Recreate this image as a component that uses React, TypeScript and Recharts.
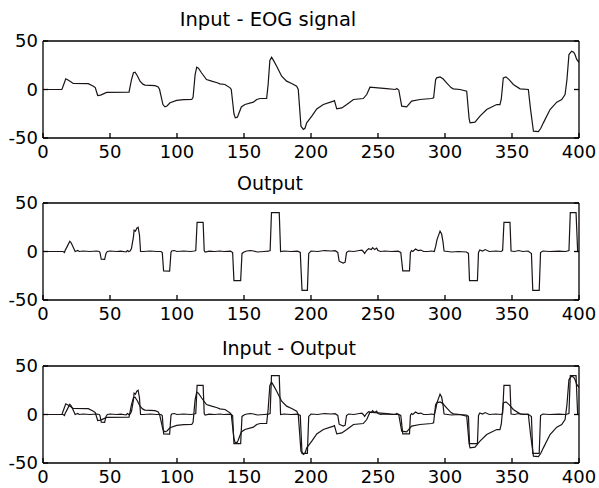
import React from 'react';
import { LineChart, Line, XAxis, YAxis } from 'recharts';

const xTicks = [0, 50, 100, 150, 200, 250, 300, 350, 400];
const yTicks = [-50, 0, 50];
const titles = ['Input - EOG signal', 'Output', 'Input - Output'];

// [sample index, value]
const inputSignal: [number, number][] = [
  [0, 0], [14, 0], [14.5, 1.5], [17, 11], [19, 9.5], [22.6, 6.2], [33.8, 6], [37.6, 3.4], [39, 2], [40.8, -6.2],
  [43, -5.8], [47.5, -3], [64.2, -2.7], [66, 10], [67.5, 17.2], [68.7, 17.9], [70.5, 14], [72.4, 8.6], [74.5, 5.5], [76.1, 4.5],
  [83.6, 4], [86, 2.7], [87, 0], [89.5, -15.5], [91, -17.9], [92.5, -17], [94.8, -13.7], [99.8, -11.3], [105, -10.5], [111, -10.3],
  [112, -8], [113.5, 15], [114.7, 23], [116, 22], [118.4, 17], [122, 10.3], [125.9, 8.6], [130, 7], [132, 5.8], [135.8, 5.2],
  [139.6, 1.7], [140.5, 0], [142.5, -25], [143.5, -29.2], [145, -28.5], [145.5, -27], [148, -18], [150.7, -15.5], [157, -13], [159.5, -10.3],
  [162, -9.3], [166.9, -9.3], [168, 5], [169.3, 30], [170.6, 33.3], [172, 30], [174.4, 24], [178.1, 13.7], [181.8, 8.6], [185.6, 6.2],
  [189.3, 3.4], [190.5, 0], [192.5, -37.8], [194.3, -41.2], [195.5, -40], [196.8, -34.4], [200.6, -27.5], [204.3, -20], [209.2, -15.5], [216.8, -12],
  [217.5, -11.5], [219.2, -20], [223, -19], [226.7, -15.5], [231.7, -10.3], [239, -9.3], [241.6, -5.2], [244, 2.4], [250, 1.7], [256.5, 1],
  [263, 0], [264, 1], [265.5, -0.5], [267.7, -17.2], [271.4, -18], [275.1, -12], [281.3, -10.3], [290, -9.3], [291.5, -8.5], [293, 10],
  [293.8, 12], [296.3, 13], [298.5, 11], [301.2, 6.9], [304.5, 2], [306.2, 0.7], [311.2, 0], [316.2, -1.7], [318, -30], [318.7, -34.4],
  [322.4, -33.7], [326.1, -27.5], [331.1, -20.6], [338.6, -15.5], [341, -15.5], [342, -10], [343.5, 12], [345.5, 13], [348, 10], [351, 5.2],
  [356, 0.7], [362.2, 0], [363.8, -20], [366, -43], [369.7, -43.5], [371.5, -40], [373.4, -34.4], [378.4, -20.6], [383.4, -13], [387.1, -10.3],
  [389.6, -5.2], [391, 10], [392.5, 36], [394.5, 39.5], [396, 38.5], [397, 36], [398.3, 31], [400, 28],
];

const outputSignal: [number, number][] = [
  [0, 0], [15, 0], [16, -1], [16.5, 1], [18, 5], [20, 10.6], [21, 9], [23, 3], [24, 0], [26, 1],
  [27, 0], [30, 0.5], [35, 0], [40, 0.5], [42, 0], [42.5, -1], [43.5, -8], [46, -8.2], [47, -2], [48, 0],
  [50, 0.5], [55, 0], [58, 0.3], [62, -0.5], [63, 1], [64, 0], [65, 0.5], [66, 3], [67.5, 15], [68, 22],
  [69, 21], [70, 24], [71, 25], [72, 17], [72.8, 0], [75, 0], [80, 0.5], [85, 0], [88, 0], [89, -1],
  [90, -20], [94.5, -20.3], [95.5, -1], [96, 0.5], [98, 1], [100, 0], [105, 0.5], [110, 0], [113, 0.5], [114, 1],
  [115, 30], [119.5, 30], [120.3, 1], [121, -0.5], [124, 0.3], [128, 0], [132, 0.5], [135, 0], [140, 0.3], [141.5, -1],
  [142.5, -30], [147.5, -30], [148.5, -2], [150, -0.5], [152, 0.5], [155, 1], [157, 0.5], [160, -0.5], [165, 0], [168, 0.3],
  [169.5, 1], [170.5, 40], [176.3, 40], [177.3, 0], [180, 0.5], [185, 0], [190, 0.3], [192, -1], [193.3, -40], [197.3, -40],
  [198.3, -2], [200, 0.5], [205, 0], [210, 1], [215, 0.5], [218, 0.8], [220, -1], [221, -10], [224, -12], [225.5, -11],
  [226.5, -1], [228, 0.5], [232, 0], [236, 1], [238, 1.5], [239, 0], [240, -2], [241.5, 1], [243, 3], [245, 2],
  [246, 4], [247.5, 2], [249, 3.5], [250, 1], [252, 0], [255, 0.5], [260, 0], [265, 0.3], [267, -1], [268.5, -20],
  [273.5, -20], [274.2, -1], [275, 1], [276, 0], [278, 2.5], [280, 1], [282, 1.5], [284, 0], [287, 0], [290, 0.5],
  [292, 0], [293, 5], [294, 12], [296.3, 21], [297.5, 18], [298.5, 10], [299.3, 0.5], [302, 0], [305, -0.5], [310, 0],
  [316, -0.5], [317.5, -2], [318.3, -30], [324.2, -30], [325, -1], [326, 1.5], [328, 0.5], [330, 2], [333, 0], [338, 0.5],
  [342, 0], [343, 1], [344, 30], [348.5, 30], [349.3, 0.5], [352, 0], [355, 1], [358, 0], [362, 0.5], [364.5, -2],
  [365.5, -40], [370.3, -40], [371.3, -1], [373, 0.5], [378, 0], [385, 0.3], [390, 0], [392.5, 1], [393.5, 40], [397.8, 40],
  [399, 0], [400, 0],
];

const FONT = '"DejaVu Sans", Verdana, sans-serif';
const INK = '#1a1414';

const toRows = (s: [number, number][]) => s.map(([t, v]) => ({ t, v }));
const inputRows = toRows(inputSignal);
const outputRows = toRows(outputSignal);

const tickFont = { fill: '#000', fontSize: 18, fontFamily: FONT };

function Panel({ plotTop, series }: { plotTop: number; series: { t: number; v: number }[][] }) {
  return (
    <div style={{ position: 'absolute', left: 0, top: plotTop - 10 }}>
      <LineChart width={599} height={132} margin={{ top: 9, right: 19, bottom: 0, left: 0 }}>
        <XAxis
          xAxisId="b"
          dataKey="t"
          type="number"
          domain={[0, 400]}
          ticks={xTicks}
          interval={0}
          allowDataOverflow
          height={25}
          tickSize={-5}
          tickMargin={12}
          stroke="#000"
          strokeWidth={1.3}
          tick={tickFont}
        />
        <XAxis
          xAxisId="top"
          orientation="top"
          type="number"
          domain={[0, 400]}
          ticks={xTicks}
          interval={0}
          allowDataOverflow
          height={1}
          tickSize={-5}
          tickFormatter={() => ''}
          stroke="#000"
          strokeWidth={1.3}
        />
        <YAxis
          yAxisId="l"
          type="number"
          domain={[-50, 50]}
          ticks={yTicks}
          interval={0}
          allowDataOverflow
          width={43}
          tickSize={-5}
          tickMargin={10}
          stroke="#000"
          strokeWidth={1.3}
          tick={tickFont}
        />
        <YAxis
          yAxisId="r"
          orientation="right"
          type="number"
          domain={[-50, 50]}
          ticks={yTicks}
          interval={0}
          allowDataOverflow
          width={1}
          tickSize={-5}
          tickFormatter={() => ''}
          stroke="#000"
          strokeWidth={1.3}
        />
        {series.map((rows, i) => (
          <Line
            key={i}
            xAxisId="b"
            yAxisId="l"
            data={rows}
            dataKey="v"
            type="linear"
            stroke={INK}
            strokeWidth={1.2}
            dot={false}
            activeDot={false}
            isAnimationActive={false}
          />
        ))}
      </LineChart>
    </div>
  );
}

const titleCenters = [268, 270, 289];
const titleBaselines = [27, 190, 355];
const titleSizes = [19.5, 19, 19];

export default function App() {
  return (
    <div style={{ position: 'absolute', left: 0, top: 0, width: 599, height: 488, background: '#fff', fontFamily: FONT, overflow: 'hidden' }}>
      {titles.map((txt, i) => (
        <div
          key={txt}
          style={{
            position: 'absolute',
            left: titleCenters[i] - 150,
            width: 300,
            top: titleBaselines[i] - 17.8,
            lineHeight: '22px',
            fontSize: titleSizes[i],
            textAlign: 'center',
            color: '#000',
            whiteSpace: 'nowrap',
          }}
        >
          {txt}
        </div>
      ))}
      <Panel plotTop={41} series={[inputRows]} />
      <Panel plotTop={203} series={[outputRows]} />
      <Panel plotTop={366} series={[inputRows, outputRows]} />
    </div>
  );
}
